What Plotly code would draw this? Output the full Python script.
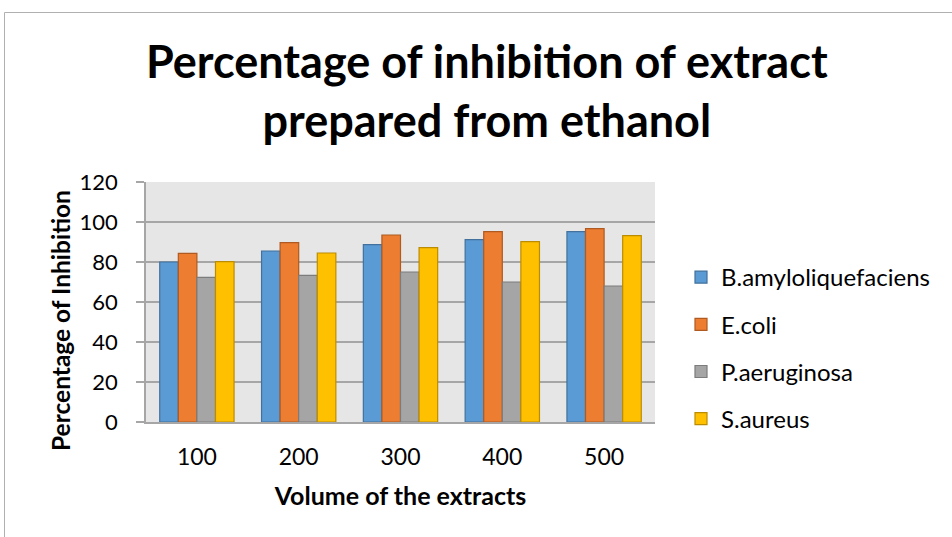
import plotly.graph_objects as go

# Extract volumes (x categories)
volumes = ["100", "200", "300", "400", "500"]

# Percentage of inhibition per organism
b_amylo = [80, 85.5, 88.7, 91.2, 95.2]
e_coli = [84.3, 89.7, 93.5, 95.2, 96.7]
p_aerug = [72.3, 73.3, 75, 70, 68]
s_aureus = [80.2, 84.5, 87.2, 90.2, 93.2]

series_names = ["B.amyloliquefaciens", "E.coli", "P.aeruginosa", "S.aureus"]
series_values = [b_amylo, e_coli, p_aerug, s_aureus]
fill_colors = ["#5b9bd5", "#ed7d31", "#a5a5a5", "#ffc000"]
edge_colors = ["#41719c", "#ae5a21", "#7c7c7c", "#bc8c00"]

FONT = "Lato, Carlito, Calibri, sans-serif"

fig = go.Figure()
for name, vals, fc, ec in zip(series_names, series_values, fill_colors, edge_colors):
    fig.add_trace(go.Bar(
        x=volumes, y=vals, name=name, legendgroup=name,
        marker=dict(color=fc, line=dict(color=ec, width=1.2)),
    ))

# plot area: x 146..655, y 182..422 in a 952x537 page
L, R, T, B = 146, 952 - 655, 182, 537 - 422
W, H = 952 - L - R, 537 - T - B

def px(xp):
    return (xp - L) / W

def py(yp):
    return (537 - B - yp) / H

fig.update_layout(
    width=952, height=537,
    margin=dict(l=L, r=R, t=T, b=B, autoexpand=False),
    paper_bgcolor="white",
    plot_bgcolor="#e7e6e6",
    barmode="group", bargap=0.27, bargroupgap=0,
    font=dict(family=FONT, color="#000000", size=22),
    showlegend=True,
    legend=dict(
        x=px(681), y=py(255), xanchor="left", yanchor="top",
        font=dict(size=24, family=FONT, color="#000000"),
        tracegroupgap=13, bgcolor="rgba(0,0,0,0)",
    ),
    xaxis=dict(
        showgrid=False, showline=True, linecolor="#a6a6a6", linewidth=1.5,
        ticks="", ticklabelstandoff=14,
        tickfont=dict(size=23, family=FONT),
        title=dict(text="<b>Volume of the extracts</b>", font=dict(size=25, family=FONT), standoff=18),
    ),
    yaxis=dict(
        range=[0, 120], dtick=20, showgrid=True, gridcolor="#a6a6a6", gridwidth=1.5,
        showline=True, linecolor="#a6a6a6", linewidth=1.5,
        ticks="outside", ticklen=8, tickcolor="#a6a6a6", tickwidth=1.5,
        ticklabelstandoff=14, tickfont=dict(size=22, family=FONT),
        zeroline=False,
    ),
    annotations=[
        dict(
            text="<b>Percentage of inhibition of extract<br>prepared from ethanol</b>",
            xref="paper", yref="paper", x=px(487), y=py(90), xanchor="center", yanchor="middle",
            showarrow=False, font=dict(size=45, family=FONT, color="#000000"),
        ),
        dict(
            text="<b>Percentage of Inhibition</b>", textangle=-90,
            xref="paper", yref="paper", x=px(60), y=py(321), xanchor="center", yanchor="middle",
            showarrow=False, font=dict(size=24.5, family=FONT, color="#000000"),
        ),
    ],
    shapes=[
        # chart border (left and top edges)
        dict(type="line", xref="paper", yref="paper", x0=px(4.5), x1=px(4.5), y0=py(12.5), y1=py(560),
             line=dict(color="#b0b0b0", width=1)),
        dict(type="line", xref="paper", yref="paper", x0=px(4.5), x1=px(980), y0=py(12.5), y1=py(12.5),
             line=dict(color="#b0b0b0", width=1)),
    ],
)

fig.write_html("out.html")
